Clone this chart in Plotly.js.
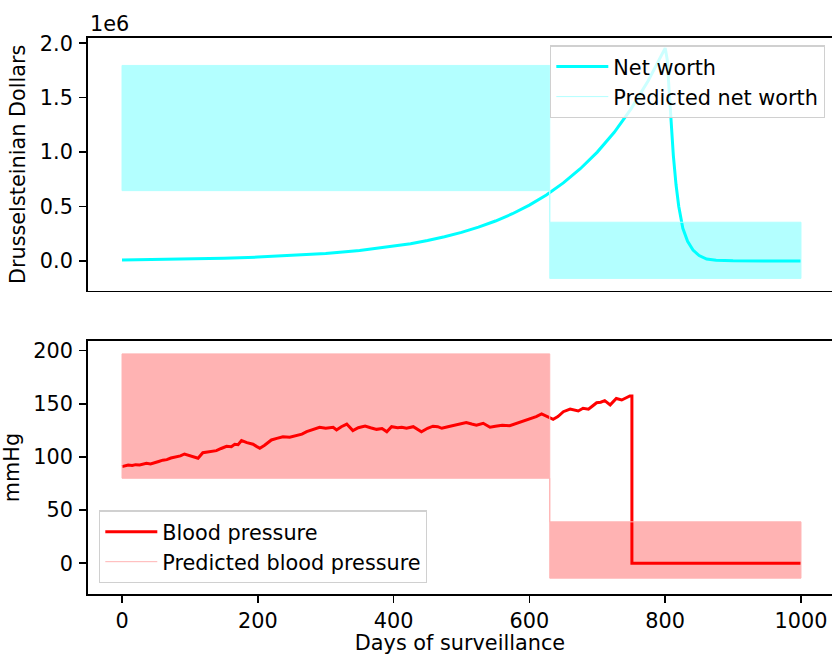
<!DOCTYPE html>
<html>
<head>
<meta charset="utf-8">
<script src="https://cdn.plot.ly/plotly-3.0.1.min.js"></script>
<style>html,body{margin:0;padding:0;background:#fff;overflow:hidden}#chart{width:832px;height:655px}</style>
</head>
<body>
<div id="chart"></div>
<script>
// ---- Data ----
const netDays = [0,50,100,150,200,250,300,350,400,425,450,475,500,525,550,575,600,625,650,675,700,725,750,775,800,803,806,809,812,816,820,826,833,841,850,861,875,900,950,1000];
const netWorth = [9300,13000,18200,25400,35400,49500,69100,96500,134800,159000,188000,222000,263000,311000,367000,434000,513000,606000,717000,847000,1000000,1182000,1400000,1655000,1955000,1850000,1550000,1230000,970000,700000,500000,300000,180000,100000,50000,18000,6000,1000,100,0];

// predicted net worth: envelope of the dense oscillation (upper / lower) per regime
const predNetDays = [0,630,630,1000];
const predNetHigh = [1796000,1796000,356000,356000];
const predNetLow  = [646000,646000,-160000,-160000];

const bpDays = [0,5,9,15,20,26,31,36,42,48,54,60,66,72,80,86,92,100,106,112,119,126,132,139,146,154,161,166,171,176,184,193,198,203,210,220,228,237,247,257,265,272,282,291,300,311,316,323,331,336,340,348,358,366,375,383,390,397,406,412,419,429,435,441,450,458,465,471,480,488,497,507,515,522,532,537,542,550,560,571,578,586,593,601,610,618,626,635,642,650,660,666,672,679,687,693,699,705,711,719,724,728,736,742,748,751,751,1000];
const bloodPressure = [90.9,91.5,92.5,92,92.8,92.5,93.5,94,93.5,95,95.8,97,97.5,99,100,101,102.8,101,100,98.8,104,104.5,105,106,108,110,109.7,112,111.5,115.4,113.5,112,110,108.2,111,116,117.5,119,118.5,119.8,121.5,123.8,126,128,127,128,125.4,128.5,131,127,124.8,127.5,129,127.5,126,126.8,123.8,128.5,127.5,128,127,128.5,126,123.8,127,129,128.5,127,128.5,129.5,130.5,132.3,131,130,131.7,130,128,129,129.8,129.5,131,132.3,134,135.5,138,140.5,138,135.5,138,142.6,145,143.8,143.3,145.8,144.9,148,151,151.5,153,149,152,155,153.6,155.5,157.4,157.4,0,0];

const predBpDays = [0,630,630,1000];
const predBpHigh = [197,197,39,39];
const predBpLow  = [80,80,-14,-14];

const yTopTickVals = [0,500000,1000000,1500000,2000000];
const yTopTickText = ['0.0','0.5','1.0','1.5','2.0'];
const yBotTickVals = [0,50,100,150,200];
const xTickVals = [0,200,400,600,800,1000];

// ---- helpers ----
function polygon(days, hi, lo){
  return {x: days.concat(days.slice().reverse()).concat([days[0]]),
          y: hi.concat(lo.slice().reverse()).concat([hi[0]])};
}
const FONT = 'DejaVu Sans, Verdana, sans-serif';
const FS = 20.8;
const cyanLight = '#b3ffff';
const redLight = '#ffb3b3';

const pn = polygon(predNetDays, predNetHigh, predNetLow);
const pb = polygon(predBpDays, predBpHigh, predBpLow);

const traces = [
  {x: pn.x, y: pn.y, xaxis:'x', yaxis:'y', mode:'lines', fill:'toself', fillcolor: cyanLight,
   line:{width:0, color:cyanLight}, showlegend:false, hoverinfo:'skip'},
  {x: netDays, y: netWorth, xaxis:'x', yaxis:'y', mode:'lines', name:'Net worth',
   line:{color:'#00ffff', width:3}, legend:'legend'},
  {x: pn.x, y: pn.y, xaxis:'x', yaxis:'y', mode:'lines', name:'Predicted net worth',
   line:{color:cyanLight, width:1}, legend:'legend'},

  {x: pb.x, y: pb.y, xaxis:'x2', yaxis:'y2', mode:'lines', fill:'toself', fillcolor: redLight,
   line:{width:0, color:redLight}, showlegend:false, hoverinfo:'skip'},
  {x: bpDays, y: bloodPressure, xaxis:'x2', yaxis:'y2', mode:'lines', name:'Blood pressure',
   line:{color:'#ff0000', width:3}, legend:'legend2'},
  {x: pb.x, y: pb.y, xaxis:'x2', yaxis:'y2', mode:'lines', name:'Predicted blood pressure',
   line:{color:redLight, width:1}, legend:'legend2'}
];

const axisCommon = {
  showline:true, linecolor:'#000', linewidth:1.6, showgrid:false, zeroline:false,
  ticks:'outside', ticklen:7.3, tickwidth:1.6, tickcolor:'#000',
  tickfont:{family:FONT, size:FS, color:'#000'}
};
const xRange = [-50.1, 1045.7];

const legendCommon = {
  bgcolor:'rgba(255,255,255,0.8)', bordercolor:'#d0d0d0', borderwidth:1.3,
  font:{family:FONT, size:FS, color:'#000'}, itemwidth:52, traceorder:'normal'
};

const layout = {
  width:832, height:655,
  margin:{l:88, r:0, t:38, b:61, pad:0},
  paper_bgcolor:'#fff', plot_bgcolor:'#fff',
  font:{family:FONT, size:FS, color:'#000'},
  xaxis: Object.assign({}, axisCommon, {domain:[0,1], anchor:'y', range:xRange, mirror:true,
    showticklabels:false, ticks:''}),
  yaxis: Object.assign({}, axisCommon, {domain:[0.5455,1], anchor:'x', range:[-273000,2048000],
    tickvals:yTopTickVals, ticktext:yTopTickText, ticklabelstandoff:2,
    title:{text:'Drusselsteinian Dollars', font:{family:FONT, size:FS, color:'#000'}, standoff:8}}),
  xaxis2: Object.assign({}, axisCommon, {domain:[0,1], anchor:'y2', range:xRange, mirror:true,
    tickvals:xTickVals,
    title:{text:'Days of surveillance', font:{family:FONT, size:FS, color:'#000'}, standoff:11}}),
  yaxis2: Object.assign({}, axisCommon, {domain:[0,0.455], anchor:'x2', range:[-28.9,209.1],
    tickvals:yBotTickVals, ticklabelstandoff:2,
    title:{text:'mmHg', font:{family:FONT, size:FS, color:'#000'}, standoff:8}}),
  legend: Object.assign({}, legendCommon, {x:0.9906, xanchor:'right', y:0.987, yanchor:'top'}),
  legend2: Object.assign({}, legendCommon, {x:0.0148, xanchor:'left', y:0.0192, yanchor:'bottom'}),
  annotations:[{text:'1e6', xref:'paper', yref:'paper', x:0, y:1, xanchor:'left', yanchor:'bottom',
    showarrow:false, font:{family:FONT, size:FS, color:'#000'}, yshift:0}]
};

Plotly.newPlot('chart', traces, layout, {staticPlot:true, displayModeBar:false});
</script>
</body>
</html>
